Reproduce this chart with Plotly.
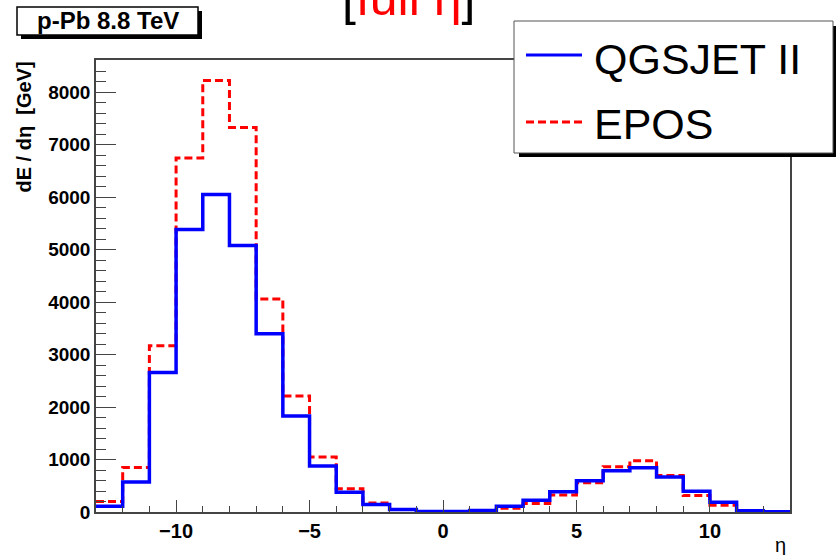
import plotly.graph_objects as go

# Pseudorapidity bin edges (unit-width bins from -13 to 13)
eta_edges = [-13, -12, -11, -10, -9, -8, -7, -6, -5, -4, -3, -2, -1, 0,
             1, 2, 3, 4, 5, 6, 7, 8, 9, 10, 11, 12, 13]

# Energy flow dE/deta [GeV] per bin
qgsjet_dE = [110, 570, 2655, 5380, 6050, 5075, 3395, 1830, 875, 375, 145, 50, 8,
             8, 30, 110, 225, 385, 595, 785, 845, 665, 395, 185, 25, 6]
epos_dE = [200, 850, 3165, 6745, 8220, 7325, 4055, 2210, 1050, 445, 172, 50, 8,
           8, 20, 72, 162, 325, 555, 860, 975, 695, 312, 127, 20, 6]

W, H = 836, 555
ML, MR, MT, MB = 96, 46, 60, 43
PW, PH = W - ML - MR, H - MT - MB


def px(x):
    return (x - ML) / PW


def py(y):
    return (H - MB - y) / PH


FONT = "Liberation Sans, Arial, Helvetica, sans-serif"

fig = go.Figure()

# EPOS first so the solid QGSJET line sits on top where they overlap
fig.add_trace(go.Scatter(
    x=eta_edges, y=epos_dE + [epos_dE[-1]], mode="lines", line_shape="hv",
    line=dict(color="#ff0000", width=3, dash="8px,4px"),
    name="EPOS", showlegend=False, hoverinfo="skip"))
fig.add_trace(go.Scatter(
    x=eta_edges, y=qgsjet_dE + [qgsjet_dE[-1]], mode="lines", line_shape="hv",
    line=dict(color="#0000ff", width=3.5),
    name="QGSJET II", showlegend=False, hoverinfo="skip"))

shapes = []
annotations = []

# Collision system label box with drop shadow
shapes.append(dict(type="rect", xref="paper", yref="paper",
                   x0=px(21), x1=px(202), y0=py(11), y1=py(39),
                   fillcolor="black", line=dict(width=0), layer="above"))
shapes.append(dict(type="rect", xref="paper", yref="paper",
                   x0=px(17), x1=px(198), y0=py(7), y1=py(35),
                   fillcolor="white", line=dict(color="black", width=1.5), layer="above"))
annotations.append(dict(text="<b>p-Pb 8.8 TeV</b>", xref="paper", yref="paper",
                        x=px(108), y=py(21), xanchor="center", yanchor="middle",
                        showarrow=False, font=dict(family=FONT, size=24, color="black")))

# Title, partially above the canvas
annotations.append(dict(text="<span style='color:black'>[</span>full η<span style='color:black'>]</span>",
                        xref="paper", yref="paper", x=px(408), y=py(28),
                        xanchor="center", yanchor="bottom", showarrow=False,
                        font=dict(family=FONT, size=50, color="#ff0000")))

# Legend box with drop shadow
shapes.append(dict(type="rect", xref="paper", yref="paper",
                   x0=px(519), x1=px(840), y0=py(26), y1=py(157),
                   fillcolor="black", line=dict(width=0), layer="above"))
shapes.append(dict(type="rect", xref="paper", yref="paper",
                   x0=px(514), x1=px(833), y0=py(21), y1=py(153),
                   fillcolor="white", line=dict(color="#555555", width=1), layer="above"))
shapes.append(dict(type="line", xref="paper", yref="paper",
                   x0=px(526), x1=px(582), y0=py(55), y1=py(55),
                   line=dict(color="#0000ff", width=3), layer="above"))
shapes.append(dict(type="line", xref="paper", yref="paper",
                   x0=px(526), x1=px(582), y0=py(122), y1=py(122),
                   line=dict(color="#ff0000", width=3, dash="8px,4px"), layer="above"))
annotations.append(dict(text="QGSJET II", xref="paper", yref="paper",
                        x=px(592), y=py(59), xanchor="left", yanchor="middle",
                        showarrow=False, font=dict(family=FONT, size=43, color="black")))
annotations.append(dict(text="EPOS", xref="paper", yref="paper",
                        x=px(592), y=py(124), xanchor="left", yanchor="middle",
                        showarrow=False, font=dict(family=FONT, size=43, color="black")))

# Axis titles
annotations.append(dict(text="<b>dE / dη  [GeV]</b>", xref="paper", yref="paper",
                        x=px(23), y=1, xanchor="center", yanchor="top", textangle=-90,
                        showarrow=False, font=dict(family=FONT, size=20, color="black")))
annotations.append(dict(text="η", xref="paper", yref="paper",
                        x=px(780), y=py(545), xanchor="center", yanchor="middle",
                        showarrow=False, font=dict(family=FONT, size=20, color="black")))

fig.update_layout(
    width=W, height=H,
    margin=dict(l=ML, r=MR, t=MT, b=MB),
    paper_bgcolor="white", plot_bgcolor="white",
    shapes=shapes, annotations=annotations,
    xaxis=dict(range=[-13, 13], showgrid=False, zeroline=False,
               showline=True, mirror=True, linecolor="#444444", linewidth=1.5,
               ticks="inside", ticklen=12, tickwidth=1.2, tickcolor="#444444",
               tickvals=[-10, -5, 0, 5, 10],
               minor=dict(dtick=1, tick0=0, ticks="inside", ticklen=6, tickcolor="#444444"),
               tickfont=dict(family=FONT, size=20, color="black", weight="bold")),
    yaxis=dict(range=[0, 8610], showgrid=False, zeroline=False,
               showline=True, mirror=True, linecolor="#444444", linewidth=1.5,
               ticks="inside", ticklen=20, tickwidth=1.2, tickcolor="#444444",
               tickvals=[0, 1000, 2000, 3000, 4000, 5000, 6000, 7000, 8000],
               minor=dict(dtick=200, tick0=0, ticks="inside", ticklen=10, tickcolor="#444444"),
               tickfont=dict(family=FONT, size=19, color="black", weight="bold")),
)

fig.write_html("out.html")
